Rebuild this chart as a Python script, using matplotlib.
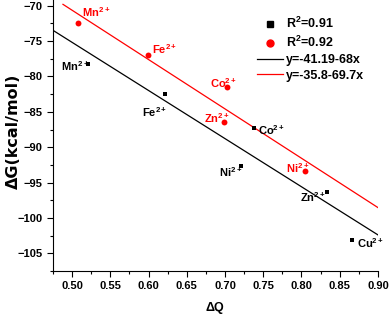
import numpy as np
import matplotlib
matplotlib.use('Agg')
import matplotlib.pyplot as plt
from matplotlib.lines import Line2D
from matplotlib.ticker import MultipleLocator

plt.rcParams['font.family'] = ['Liberation Sans', 'DejaVu Sans']
plt.rcParams['mathtext.fontset'] = 'custom'
plt.rcParams['mathtext.rm'] = 'Liberation Sans:bold'
plt.rcParams['mathtext.bf'] = 'Liberation Sans:bold'

# black squares (R^2=0.91)
ions_black = ['Mn', 'Fe', 'Co', 'Ni', 'Zn', 'Cu']
dq_black = [0.521, 0.622, 0.738, 0.721, 0.833, 0.866]
dg_black = [-78.3, -82.5, -87.3, -92.6, -96.4, -103.1]

# red circles (R^2=0.92)
ions_red = ['Mn', 'Fe', 'Co', 'Zn', 'Ni']
dq_red = [0.508, 0.599, 0.703, 0.699, 0.804]
dg_red = [-72.5, -77.0, -81.5, -86.4, -93.3]

# label positions
lab_black = [(0.486, -78.6), (0.592, -85.0), (0.743, -87.6),
             (0.692, -93.5), (0.798, -97.1), (0.873, -103.6)]
lab_red = [(0.513, -70.9), (0.605, -76.2), (0.680, -80.9),
           (0.672, -85.9), (0.780, -92.9)]

fig = plt.figure(figsize=(3.9, 3.17), dpi=100)
ax = fig.add_axes([0.136, 0.145, 0.833, 0.855])

ax.scatter(dq_black, dg_black, marker='s', s=10, color='black', zorder=3,
           linewidths=0)
ax.scatter(dq_red, dg_red, marker='o', s=18, color='red', zorder=3,
           linewidths=0)

xb = np.array([0.475, 0.90])
ax.plot(xb, -41.19 - 68 * xb, color='black', lw=0.9)
xr = np.array([0.488, 0.90])
ax.plot(xr, -35.8 - 69.7 * xr, color='red', lw=0.9)

for ion, (x, y) in zip(ions_black, lab_black):
    ax.text(x, y, ion + r'$^{2+}$', fontsize=8, color='black',
            fontweight='bold', va='center', ha='left')
for ion, (x, y) in zip(ions_red, lab_red):
    ax.text(x, y, ion + r'$^{2+}$', fontsize=8, color='red',
            fontweight='bold', va='center', ha='left')

ax.set_xlim(0.475, 0.90)
ax.set_ylim(-107.5, -69.2)
ax.xaxis.set_major_locator(MultipleLocator(0.05))
ax.xaxis.set_minor_locator(MultipleLocator(0.025))
ax.yaxis.set_major_locator(MultipleLocator(5))
ax.yaxis.set_minor_locator(MultipleLocator(2.5))
ax.xaxis.set_major_formatter(plt.FormatStrFormatter('%.2f'))
ax.tick_params(which='major', direction='out', length=4, width=0.8,
               labelsize=8)
ax.tick_params(which='minor', direction='out', length=2, width=0.8)
for lbl in ax.get_xticklabels() + ax.get_yticklabels():
    lbl.set_fontweight('bold')
ax.spines['top'].set_visible(False)
ax.spines['right'].set_visible(False)

ax.set_xlabel(r'$\Delta$Q', fontsize=9, fontweight='bold', labelpad=6)
ax.set_ylabel('\u0394G(kcal/mol)', fontsize=11.5, fontweight='bold',
              family='DejaVu Sans')
ax.yaxis.set_label_coords(-0.10, 0.517)

handles = [
    Line2D([], [], marker='s', color='black', ls='none', markersize=4),
    Line2D([], [], marker='o', color='red', ls='none', markersize=5),
    Line2D([], [], color='black', lw=0.9),
    Line2D([], [], color='red', lw=0.9),
]
labels = [r'R$^2$=0.91', r'R$^2$=0.92', 'y=-41.19-68x', 'y=-35.8-69.7x']
leg = fig.legend(handles, labels, loc='upper left', frameon=False,
                 fontsize=9, handlelength=2.1, handletextpad=0.2,
                 labelspacing=0.3, borderpad=0, borderaxespad=0,
                 bbox_to_anchor=(257 / 390, 1 - 16 / 317))
for t in leg.get_texts():
    t.set_fontweight('bold')

fig.savefig('out.png', dpi=100)
